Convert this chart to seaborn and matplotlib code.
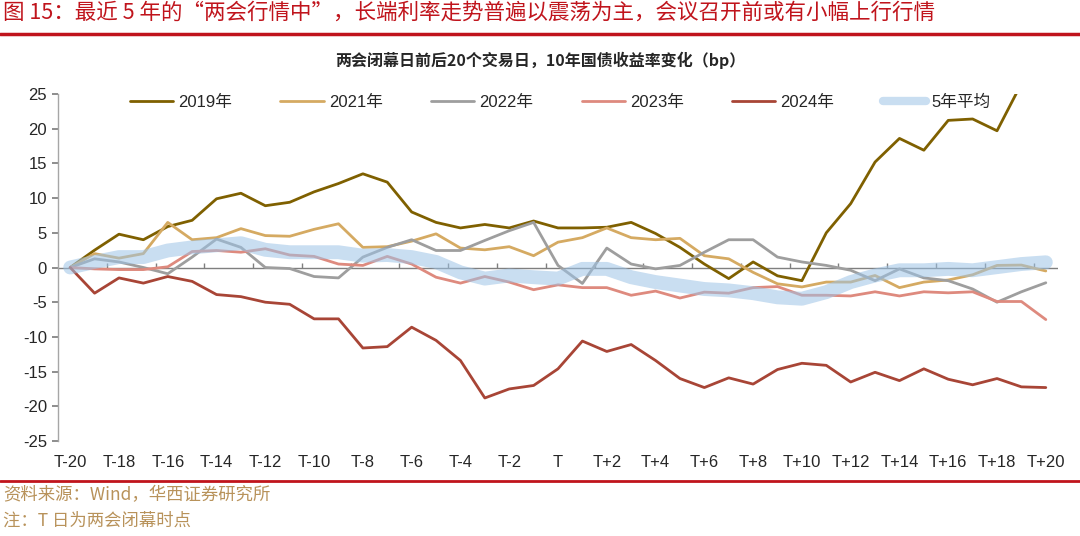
import numpy as np
import pandas as pd
import matplotlib.pyplot as plt
import seaborn as sns

# data (bp change of 10Y CGB yield)
days = list(range(-20, 21))
tick_labels = ["T-20", "T-18", "T-16", "T-14", "T-12", "T-10", "T-8", "T-6", "T-4", "T-2", "T",
               "T+2", "T+4", "T+6", "T+8", "T+10", "T+12", "T+14", "T+16", "T+18", "T+20"]

y2019 = [0, 2.5, 4.8, 4.0, 5.9, 6.8, 9.9, 10.7, 8.9, 9.4, 10.9, 12.1, 13.5, 12.3, 8.0, 6.5, 5.7, 6.2, 5.7, 6.7,
         5.7, 5.7, 5.8, 6.5, 4.9, 2.9, 0.5, -1.6, 0.8, -1.2, -1.9, 5.0, 9.2, 15.2, 18.6, 16.9, 21.2, 21.4, 19.7,
         26.5, 33.0]
y2021 = [0, 2.0, 1.35, 2.0, 6.5, 4.0, 4.3, 5.6, 4.6, 4.5, 5.5, 6.3, 2.9, 3.0, 3.8, 4.85, 2.8, 2.55, 3.0, 1.7,
         3.65, 4.3, 5.7, 4.3, 4.0, 4.2, 1.7, 1.25, -0.7, -2.35, -2.8, -2.1, -2.1, -1.15, -2.9, -2.1, -1.8, -1.05,
         0.3, 0.35, -0.5]
y2022 = [0, 1.25, 0.8, 0.0, -0.9, 1.5, 4.1, 2.9, 0.0, -0.15, -1.3, -1.5, 1.5, 2.9, 4.0, 2.45, 2.45, 3.9, 5.3,
         6.5, 0.3, -2.3, 2.8, 0.5, -0.2, 0.3, 2.2, 4.0, 4.0, 1.5, 0.8, 0.3, -0.4, -1.9, -0.2, -1.5, -1.9, -3.1,
         -5.0, -3.5, -2.2]
y2023 = [0, -0.2, -0.3, -0.3, 0.1, 2.3, 2.45, 2.2, 2.7, 1.8, 1.6, 0.5, 0.3, 1.6, 0.5, -1.4, -2.25, -1.3, -2.1,
         -3.2, -2.5, -2.9, -2.9, -4.0, -3.4, -4.4, -3.55, -3.7, -2.9, -2.75, -4.0, -4.0, -4.1, -3.5, -4.1, -3.5,
         -3.65, -3.5, -4.9, -4.9, -7.5]
y2024 = [0, -3.7, -1.5, -2.25, -1.3, -2.0, -3.9, -4.2, -5.0, -5.3, -7.4, -7.4, -11.6, -11.4, -8.6, -10.5,
         -13.4, -18.8, -17.5, -17.0, -14.6, -10.6, -12.1, -11.1, -13.4, -16.0, -17.3, -15.9, -16.8, -14.7, -13.8,
         -14.1, -16.5, -15.1, -16.3, -14.6, -16.1, -16.9, -16.0, -17.2, -17.3]
avg5 = [0, 0.8, 1.5, 1.5, 2.45, 2.9, 3.2, 3.5, 2.55, 2.2, 2.2, 2.2, 1.7, 1.8, 1.5, 0.8, -0.7, -1.6, -1.15,
        -1.4, -1.6, -0.2, -0.2, -1.4, -2.1, -2.6, -3.1, -3.3, -3.7, -4.3, -4.5, -3.55, -2.1, -1.15, -0.4, -0.4,
        -0.2, -0.4, 0.05, 0.5, 0.75]

series = [("2019年", y2019, "#7F6000"), ("2021年", y2021, "#D5AA62"), ("2022年", y2022, "#9E9E9E"),
          ("2023年", y2023, "#DE8A7E"), ("2024年", y2024, "#A84536")]

sns.set_theme(style="white")
plt.rcParams["font.family"] = ["Liberation Sans", "Noto Sans CJK SC", "DejaVu Sans"]
plt.rcParams["axes.unicode_minus"] = False
cjk = ["Noto Sans CJK SC", "DejaVu Sans"]

fig = plt.figure(figsize=(10.8, 5.36), dpi=100)
ax = fig.add_axes([58 / 1080, 1 - 441 / 536, (1058 - 58) / 1080, (441 - 94) / 536])

idx = np.arange(len(days))
for name, vals, col in series:
    df = pd.DataFrame({"i": idx, "v": vals})
    sns.lineplot(data=df, x="i", y="v", ax=ax, color=col, lw=2.0, label=name)

df = pd.DataFrame({"i": idx, "v": avg5})
sns.lineplot(data=df, x="i", y="v", ax=ax, color="#9DC3E6", lw=10, alpha=0.55, label="5年平均",
             solid_capstyle="round")

ax.set_xlim(-0.5, 40.5)
ax.set_ylim(-25, 25)
ax.set_xlabel("")
ax.set_ylabel("")
ax.set_yticks(range(-25, 26, 5))
ax.set_xticks(idx[::2])
ax.set_xticklabels(tick_labels)
ax.tick_params(axis="x", length=0, labelsize=12, pad=10)
ax.tick_params(axis="y", length=4, left=True, direction="out", color="#808080", labelsize=12, pad=4)

for s in ["top", "right", "bottom"]:
    ax.spines[s].set_visible(False)
ax.spines["left"].set_color("#A6A6A6")
ax.spines["left"].set_linewidth(1)

# zero axis line with small tick marks between categories
ax.axhline(0, color="#7F7F7F", lw=1, zorder=1)
ax.vlines(np.arange(1.5, 40, 2), 0, 0.6, color="#7F7F7F", lw=1, zorder=1)

leg = ax.legend(loc="upper center", bbox_to_anchor=(560 / 1080, 1 - 80 / 536), bbox_transform=fig.transFigure,
                ncol=6, frameon=False, fontsize=12, handlelength=2.6, columnspacing=2.9, handletextpad=0.3)
leg.get_lines()[-1].set_linewidth(6)

# header and footer
fig.text(0.003, 1 - 13 / 536, "图 15：最近 5 年的“两会行情中”，长端利率走势普遍以震荡为主，会议召开前或有小幅上行行情",
         color="#C0141C", fontsize=15.5, va="center", ha="left", family=cjk)
fig.add_artist(plt.Line2D([0, 1], [1 - 34 / 536, 1 - 34 / 536], color="#C0141C", lw=2.5))
fig.text(540 / 1080, 1 - 60 / 536, "两会闭幕日前后20个交易日，10年国债收益率变化（bp）", fontsize=11.5,
         fontweight="bold", ha="center", va="center", family=cjk)
fig.add_artist(plt.Line2D([0, 1], [1 - 481 / 536, 1 - 481 / 536], color="#C0141C", lw=2))
fig.text(0.003, 1 - 495 / 536, "资料来源：Wind，华西证券研究所", color="#B8925A", fontsize=12.5,
         va="center", ha="left", family=cjk)
fig.text(0.003, 1 - 521 / 536, "注：T 日为两会闭幕时点", color="#B8925A", fontsize=12.5,
         va="center", ha="left", family=cjk)

fig.savefig("out.png", dpi=100)
